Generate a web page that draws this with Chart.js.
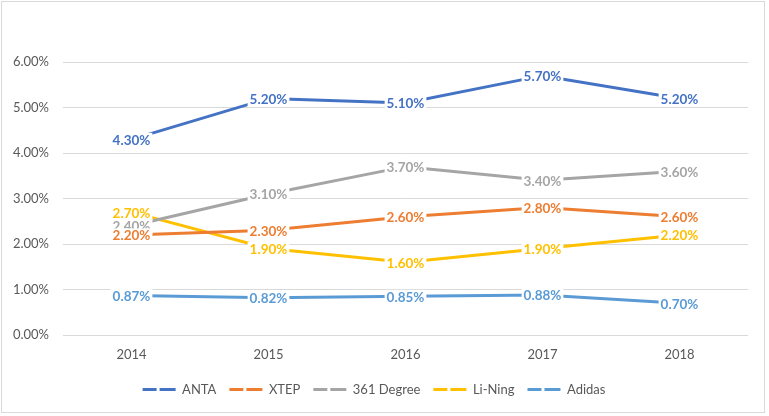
<!DOCTYPE html>
<html><head><meta charset="utf-8">
<script src="https://cdn.jsdelivr.net/npm/chart.js@4/dist/chart.umd.min.js"></script>
<style>html,body{margin:0;padding:0;background:#fff}#wrap{width:769px;height:416px;position:relative}</style>
</head><body><div id="wrap"><canvas id="c" width="769" height="416"></canvas></div>
<script>
const years = ['2014', '2015', '2016', '2017', '2018'];
const anta = [4.30, 5.20, 5.10, 5.70, 5.20];
const xtep = [2.20, 2.30, 2.60, 2.80, 2.60];
const degree361 = [2.40, 3.10, 3.70, 3.40, 3.60];
const liNing = [2.70, 1.90, 1.60, 1.90, 2.20];
const adidas = [0.87, 0.82, 0.85, 0.88, 0.70];
const seriesNames = ['ANTA', 'XTEP', '361 Degree', 'Li-Ning', 'Adidas'];
const seriesColors = ['#4472C4', '#ED7D31', '#A5A5A5', '#FFC000', '#5B9BD5'];
const yMin = 0, yMax = 6, yStep = 1;

const FONT = 'Lato, "Liberation Sans", sans-serif';

const frame = {
  id: 'frame',
  beforeDraw(chart) {
    const ctx = chart.ctx;
    ctx.save();
    ctx.fillStyle = '#fff';
    ctx.fillRect(0, 0, chart.width, chart.height);
    ctx.strokeStyle = '#D9D9D9';
    ctx.lineWidth = 1;
    ctx.strokeRect(1.5, 1.5, 763, 411);
    ctx.restore();
  }
};

const dataLabels = {
  id: 'dataLabels',
  afterDatasetsDraw(chart) {
    const ctx = chart.ctx;
    ctx.save();
    ctx.font = 'bold 13.5px ' + FONT;
    ctx.textAlign = 'center';
    ctx.textBaseline = 'middle';
    for (let d = chart.data.datasets.length - 1; d >= 0; d--) {
      const ds = chart.data.datasets[d];
      const meta = chart.getDatasetMeta(d);
      meta.data.forEach((pt, i) => {
        const txt = ds.data[i].toFixed(2) + '%';
        const w = ctx.measureText(txt).width;
        const cy = pt.y + 1;
        ctx.fillStyle = '#fff';
        ctx.fillRect(pt.x - w / 2 - 2, cy - 7.5, w + 4, 15);
        ctx.fillStyle = ds.borderColor;
        ctx.fillText(txt, pt.x, cy);
      });
    }
    ctx.restore();
  }
};

const seriesData = [anta, xtep, degree361, liNing, adidas];

new Chart(document.getElementById('c'), {
  type: 'line',
  data: {
    labels: years,
    datasets: seriesData.map((arr, k) => ({
      label: seriesNames[k],
      data: arr,
      borderColor: seriesColors[k],
      backgroundColor: seriesColors[k],
      borderWidth: 3,
      pointRadius: 0,
      tension: 0,
      fill: false
    }))
  },
  options: {
    responsive: false,
    animation: false,
    layout: { padding: { left: 0, right: 21, top: 62, bottom: 10 } },
    plugins: {
      tooltip: { enabled: false },
      legend: {
        position: 'bottom',
        labels: {
          color: '#595959',
          font: { family: FONT, size: 13 },
          usePointStyle: true,
          pointStyleWidth: 33,
          padding: 13,
          generateLabels(chart) {
            const items = Chart.defaults.plugins.legend.labels.generateLabels(chart);
            items.forEach(it => {
              const ds = chart.data.datasets[it.datasetIndex];
              it.pointStyle = 'line';
              it.strokeStyle = ds.borderColor;
              it.fillStyle = ds.borderColor;
              it.lineWidth = 3;
              it.lineDash = [14, 3, 16, 60];
            });
            return items;
          }
        }
      }
    },
    scales: {
      x: {
        offset: true,
        afterFit(scale) { scale.height = 35; },
        grid: { display: false, drawTicks: false },
        border: { display: false },
        ticks: { color: '#595959', font: { family: FONT, size: 13 }, padding: 12 }
      },
      y: {
        min: yMin, max: yMax,
        afterFit(scale) { scale.width = 63; },
        grid: { color: '#D9D9D9', lineWidth: 1, drawTicks: false },
        border: { display: false },
        ticks: {
          stepSize: yStep,
          color: '#595959',
          font: { family: FONT, size: 13 },
          padding: 14,
          callback: v => v.toFixed(2) + '%'
        }
      }
    }
  },
  plugins: [frame, dataLabels]
});
</script>
</body></html>
